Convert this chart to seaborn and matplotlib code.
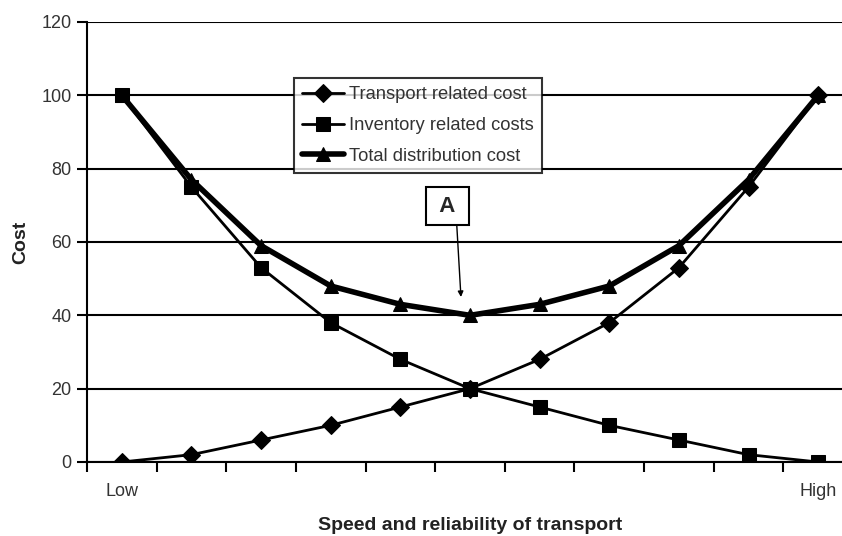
import matplotlib
matplotlib.use("Agg")
import matplotlib.pyplot as plt
import seaborn as sns
import pandas as pd
import numpy as np

sns.set_theme(style="white")
plt.rcParams['font.family'] = ['Liberation Sans', 'DejaVu Sans']

steps = list(range(11))
transport = [0, 2, 6, 10, 15, 20, 28, 38, 53, 75, 100]
inventory = [100, 75, 53, 38, 28, 20, 15, 10, 6, 2, 0]
total = [100, 77, 59, 48, 43, 40, 43, 48, 59, 77, 100]
x_labels = {0: "Low", 10: "High"}
y_ticks = [0, 20, 40, 60, 80, 100, 120]

df = pd.DataFrame({"step": steps, "transport": transport,
                   "inventory": inventory, "total": total})

fig = plt.figure(figsize=(8.42, 5.36), dpi=100)
ax = fig.add_axes([87 / 842, 74 / 536, 766 / 842, 440 / 536])

sns.lineplot(data=df, x="step", y="transport", ax=ax, color="black", lw=2,
             marker="D", markersize=9, markeredgecolor="black",
             label="Transport related cost")
sns.lineplot(data=df, x="step", y="inventory", ax=ax, color="black", lw=2,
             marker="s", markersize=10, markeredgecolor="black",
             label="Inventory related costs")
sns.lineplot(data=df, x="step", y="total", ax=ax, color="black", lw=4,
             marker="^", markersize=10, markeredgecolor="black",
             label="Total distribution cost")

ax.set_xlim(-0.5, 10.5)
ax.set_ylim(0, 120)
ax.set_yticks(y_ticks)
ax.set_yticklabels([str(v) for v in y_ticks], color="#333333", fontsize=13)
ax.yaxis.grid(True, color="black", lw=1.5)
ax.set_axisbelow(True)

ax.set_xticks(list(x_labels.keys()))
ax.set_xticklabels(list(x_labels.values()), color="#333333", fontsize=13)
ax.tick_params(axis="x", which="major", length=0, pad=15)
ax.set_xticks(np.arange(-0.5, 11, 1), minor=True)
ax.tick_params(axis="x", which="minor", direction="out", length=7,
               width=1.5, color="black", bottom=True)
ax.tick_params(axis="y", direction="out", length=7, width=1.5,
               color="black", left=True, pad=4)

for side in ["top", "right"]:
    ax.spines[side].set_visible(False)
for side in ["left", "bottom"]:
    ax.spines[side].set_color("black")
    ax.spines[side].set_linewidth(1.5)

ax.set_xlabel("Speed and reliability of transport", fontsize=14,
              fontweight="bold", color="#222222", labelpad=12)
ax.set_ylabel("Cost", fontsize=14, fontweight="bold", color="#222222",
              labelpad=9)

leg = ax.legend(loc="upper left", bbox_to_anchor=(0.270, 0.872),
                frameon=True, fancybox=False, fontsize=13.2,
                handlelength=2.3, handletextpad=0.3, borderpad=0.42,
                labelspacing=0.76, borderaxespad=0)
leg.get_frame().set_edgecolor("black")
leg.get_frame().set_linewidth(1.5)
for t in leg.get_texts():
    t.set_color("#333333")

# point label box and its arrow to the minimum of the total cost curve
ax.text(4.68, 69.8, " A ", fontsize=16, fontweight="bold",
        ha="center", va="center",
        bbox=dict(boxstyle="square,pad=0.38", fc="white", ec="black", lw=1.5))
ax.annotate("", xy=(4.87, 45), xytext=(4.81, 64.6),
            arrowprops=dict(arrowstyle="-|>", color="black", lw=1,
                            shrinkA=0, shrinkB=0, mutation_scale=8))

fig.savefig("out.png", dpi=100)
